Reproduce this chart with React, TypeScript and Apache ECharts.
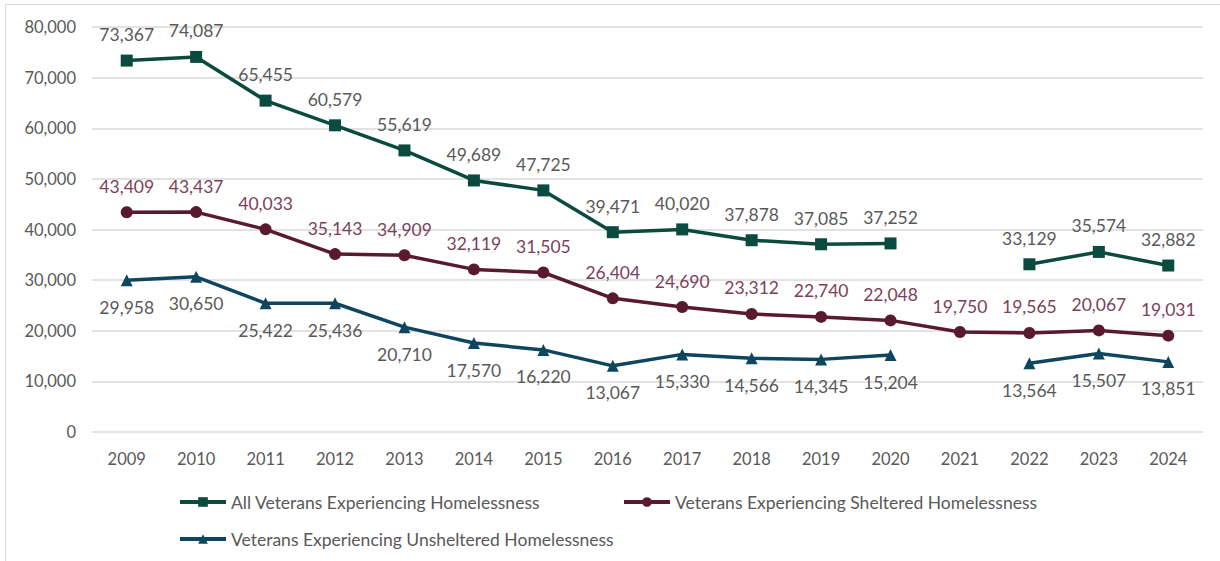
import React, { useEffect, useRef } from "react";
import * as echarts from "echarts";

const years = ["2009","2010","2011","2012","2013","2014","2015","2016","2017","2018","2019","2020","2021","2022","2023","2024"];
const allVets = [73367, 74087, 65455, 60579, 55619, 49689, 47725, 39471, 40020, 37878, 37085, 37252, null, 33129, 35574, 32882];
const sheltered = [43409, 43437, 40033, 35143, 34909, 32119, 31505, 26404, 24690, 23312, 22740, 22048, 19750, 19565, 20067, 19031];
const unsheltered = [29958, 30650, 25422, 25436, 20710, 17570, 16220, 13067, 15330, 14566, 14345, 15204, null, 13564, 15507, 13851];
const seriesNames = [
  "All Veterans Experiencing Homelessness",
  "Veterans Experiencing Sheltered Homelessness",
  "Veterans Experiencing Unsheltered Homelessness",
];

const FONT = "Lato";
const GREY = "#595959";

export default function App() {
  const ref = useRef<HTMLDivElement>(null);
  useEffect(() => {
    document.body.style.margin = "0";
    const chart = echarts.init(ref.current!, null, { renderer: "svg" });
    const fmt = (p: any) => (p.value == null ? "" : Number(p.value).toLocaleString("en-US"));
    const legendText = { color: GREY, fontSize: 17.5, fontFamily: FONT };
    const legendCommon = { itemWidth: 46, itemHeight: 12, itemGap: 0, textStyle: legendText, lineStyle: { width: 4 } };
    chart.setOption({
      animation: false,
      textStyle: { fontFamily: FONT },
      grid: { left: 92, right: 17, top: 27, bottom: 129 },
      graphic: [
        { type: "rect", shape: { x: 5.5, y: 4.5, width: 1230, height: 570 }, style: { fill: "none", stroke: "#d9d9d9", lineWidth: 1 } },
      ],
      legend: [
        { ...legendCommon, data: [seriesNames[0]], left: 173, top: 488 },
        { ...legendCommon, data: [seriesNames[1]], left: 617, top: 488 },
        { ...legendCommon, data: [seriesNames[2]], left: 173, top: 525 },
      ],
      xAxis: {
        type: "category",
        data: years,
        axisLine: { show: false },
        axisTick: { show: false },
        axisLabel: { color: GREY, fontSize: 16.5, margin: 18, fontFamily: FONT },
      },
      yAxis: {
        type: "value",
        min: 0,
        max: 80000,
        interval: 10000,
        axisLabel: { color: GREY, fontSize: 16.5, margin: 16, fontFamily: FONT, formatter: (v: number) => v.toLocaleString("en-US") },
        splitLine: { lineStyle: { color: "#d9d9d9", width: 1.5 } },
      },
      series: [
        {
          name: seriesNames[0], type: "line", data: allVets, connectNulls: false,
          symbol: "rect", symbolSize: 12,
          lineStyle: { color: "#0b4a3e", width: 3.5 }, itemStyle: { color: "#0b4a3e" },
          label: { show: true, position: "top", distance: 11, color: GREY, fontSize: 17.5, fontFamily: FONT, formatter: fmt },
        },
        {
          name: seriesNames[1], type: "line", data: sheltered,
          symbol: "circle", symbolSize: 12,
          lineStyle: { color: "#5a1a2e", width: 3.5 }, itemStyle: { color: "#5a1a2e" },
          label: { show: true, position: "top", distance: 11, color: "#7b3f5a", fontSize: 17.5, fontFamily: FONT, formatter: fmt },
        },
        {
          name: seriesNames[2], type: "line", data: unsheltered, connectNulls: false,
          symbol: "triangle", symbolSize: 12,
          lineStyle: { color: "#0e4660", width: 3.5 }, itemStyle: { color: "#0e4660" },
          label: { show: true, position: "bottom", distance: 12, color: GREY, fontSize: 17.5, fontFamily: FONT, formatter: fmt },
        },
      ],
    });
    return () => chart.dispose();
  }, []);
  return <div ref={ref} style={{ width: 1220, height: 561 }} />;
}
